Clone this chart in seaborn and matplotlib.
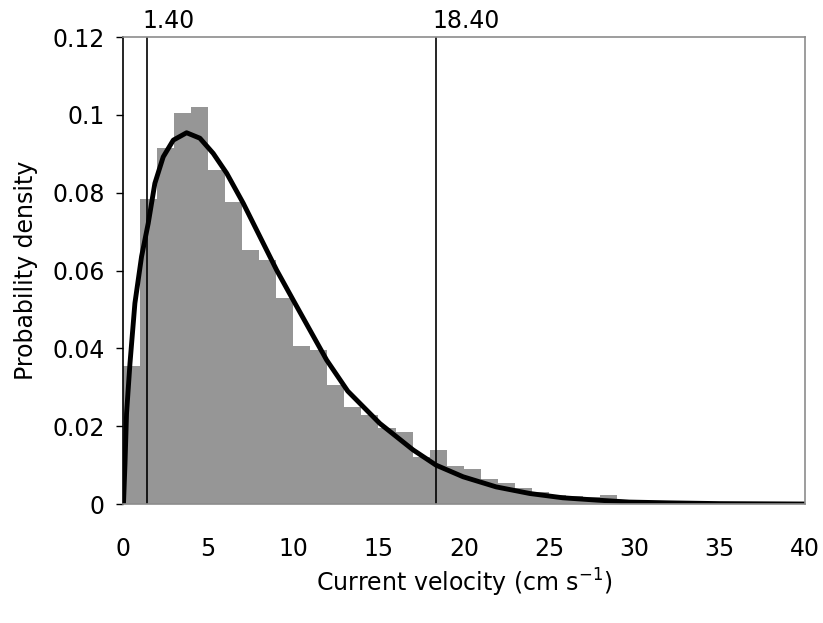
import matplotlib
matplotlib.use("Agg")
import matplotlib.pyplot as plt
import seaborn as sns
import numpy as np
import pandas as pd

# Histogram: unit-width bins starting at 0 cm/s, densities
bin_left = list(range(0, 30))
bar_height = [0.0355, 0.0785, 0.0914, 0.1005, 0.1021, 0.0858, 0.0775, 0.0653,
              0.0627, 0.0529, 0.0407, 0.0396, 0.0306, 0.0250, 0.0228, 0.0195,
              0.0186, 0.0120, 0.0140, 0.0098, 0.0089, 0.0063, 0.0053, 0.0040,
              0.0032, 0.0023, 0.0020, 0.0018, 0.0024, 0.0005]

# Fitted density curve
curve_x = [0.05, 0.14, 0.23, 0.43, 0.72, 1.11, 1.5, 1.89, 2.38, 2.97, 3.75,
           4.53, 5.31, 6.1, 7.07, 8.05, 9.03, 10.0, 10.98, 11.96, 13.2, 15.08,
           17.03, 18.37, 19.96, 21.9, 23.87, 25.8, 27.8, 29.7, 32.0, 35.0, 40.0]
curve_y = [0.0, 0.0105, 0.0233, 0.0361, 0.0516, 0.0636, 0.0721, 0.0824,
           0.0892, 0.0935, 0.0954, 0.094, 0.0901, 0.085, 0.0773, 0.0687,
           0.0601, 0.0524, 0.0447, 0.037, 0.029, 0.0207, 0.0139, 0.01, 0.007,
           0.0044, 0.0027, 0.0016, 0.001, 0.0005, 0.0003, 0.0001, 0.0]

# Reference lines
vlines = [1.40, 18.40]
vline_labels = ["1.40", "18.40"]

x_ticks = [0, 5, 10, 15, 20, 25, 30, 35, 40]
y_ticks = [0, 0.02, 0.04, 0.06, 0.08, 0.10, 0.12]
y_ticklabels = ["0", "0.02", "0.04", "0.06", "0.08", "0.1", "0.12"]

sns.set_theme(style="white")
plt.rcParams["font.family"] = ["DejaVu Sans"]
plt.rcParams["text.color"] = "black"
plt.rcParams["axes.labelcolor"] = "black"
plt.rcParams["xtick.color"] = "black"
plt.rcParams["ytick.color"] = "black"

fig = plt.figure(figsize=(8.23, 6.23), dpi=100)
ax = fig.add_axes([0.149, 0.191, 0.829, 0.7496])

hist_df = pd.DataFrame({"x": [b + 0.5 for b in bin_left], "w": bar_height})
edges = bin_left + [bin_left[-1] + 1]
sns.histplot(data=hist_df, x="x", weights="w", bins=edges, stat="count",
             color="#969696", alpha=1.0, edgecolor="none", linewidth=0, ax=ax)

curve_df = pd.DataFrame({"x": curve_x, "y": curve_y})
sns.lineplot(data=curve_df, x="x", y="y", color="black", linewidth=3.5,
             sort=False, ax=ax)

for v, lab in zip(vlines, vline_labels):
    ax.axvline(v, ymin=0, ymax=1, color="black", linewidth=1.2)
    ax.annotate(lab, xy=(v, 0.12), xycoords="data", xytext=(-3, 3),
                textcoords="offset points", ha="left", va="bottom",
                fontsize=17, color="black")

ax.set_xlim(0, 40)
ax.set_ylim(0, 0.12)
ax.set_xticks(x_ticks)
ax.set_xticklabels([str(t) for t in x_ticks], fontsize=17)
ax.set_yticks(y_ticks)
ax.set_yticklabels(y_ticklabels, fontsize=17)
ax.tick_params(axis="x", length=0, pad=24)
ax.tick_params(axis="y", length=5, width=1, direction="out", color="black", pad=8, left=True)

for side in ["top", "right", "bottom"]:
    ax.spines[side].set_color("#8c8c8c")
    ax.spines[side].set_linewidth(1.2)
ax.spines["left"].set_color("black")
ax.spines["left"].set_linewidth(1.2)

ax.set_xlabel("Current velocity (cm s$^{-1}$)", fontsize=17, labelpad=4)
ax.set_ylabel("Probability density", fontsize=17, labelpad=10)

fig.savefig("out.png", dpi=100, facecolor="white")
